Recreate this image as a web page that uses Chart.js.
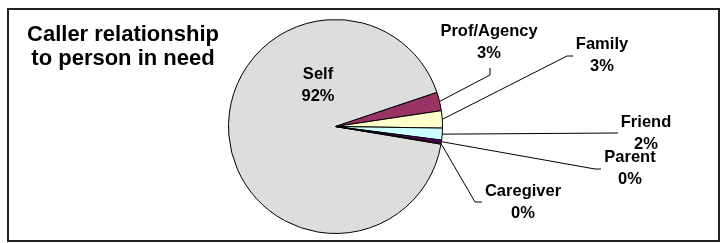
<!DOCTYPE html>
<html>
<head>
<meta charset="utf-8">
<script src="https://cdn.jsdelivr.net/npm/chart.js@4.4.0/dist/chart.umd.min.js"></script>
<style>
  html, body { margin: 0; padding: 0; background: #fff; }
  #wrap { width: 725px; height: 243px; }
</style>
</head>
<body>
<div id="wrap"><canvas id="pie" width="725" height="243"></canvas></div>
<script>
const categories = ["Self", "Prof/Agency", "Family", "Friend", "Parent", "Caregiver"];
const percents = [92.2, 2.8, 2.6, 1.8, 0.45, 0.15];
const titleLines = ["Caller relationship", "to person in need"];

const sliceColors = ["#DDDDDD", "#993366", "#FFFFCC", "#CCFFFF", "#660066", "#FF8080"];
const FONT = '"Liberation Sans", Arial, sans-serif';

// label text centres and leader elbows (null leader = label inside slice)
const labelLayout = [
    { x: 318, y: 74, leader: null },
    { x: 489, y: 31, leader: [[490, 75], [490, 68]] },
    { x: 602, y: 44, leader: [[567, 56], [573, 56]] },
    { x: 646, y: 122, leader: [[618, 133]] },
    { x: 630, y: 157, leader: [[595, 169], [601, 169]] },
    { x: 523, y: 191, leader: [[475, 202], [482, 202]] },
];

const total = percents.reduce((a, b) => a + b, 0);

const decorPlugin = {
    id: "decor",
    afterDraw(chart) {
        const ctx = chart.ctx;
        ctx.save();

        // outer frame
        ctx.strokeStyle = "#222";
        ctx.lineWidth = 2;
        ctx.strokeRect(8, 9, 711, 232);

        // title
        ctx.fillStyle = "#000";
        ctx.textAlign = "center";
        ctx.textBaseline = "middle";
        ctx.font = "bold 22px " + FONT;
        titleLines.forEach((t, i) => ctx.fillText(t, 123, 35 + i * 24));

        // labels + leaders
        const meta = chart.getDatasetMeta(0);
        ctx.font = "bold 16.5px " + FONT;
        meta.data.forEach((arc, i) => {
            const lay = labelLayout[i];
            const pct = Math.round(percents[i] / total * 100) + "%";
            if (lay.leader) {
                const mid = (arc.startAngle + arc.endAngle) / 2;
                ctx.beginPath();
                ctx.moveTo(arc.x + Math.cos(mid) * arc.outerRadius, arc.y + Math.sin(mid) * arc.outerRadius);
                lay.leader.forEach(p => ctx.lineTo(p[0], p[1]));
                ctx.strokeStyle = "#000";
                ctx.lineWidth = 1;
                ctx.stroke();
            }
            ctx.fillText(categories[i], lay.x, lay.y);
            ctx.fillText(pct, lay.x, lay.y + 22);
        });
        ctx.restore();
    }
};

new Chart(document.getElementById("pie"), {
    type: "pie",
    data: {
        labels: categories,
        datasets: [{
            data: percents,
            backgroundColor: sliceColors,
            borderColor: "#000",
            borderWidth: 1,
        }],
    },
    options: {
        responsive: false,
        animation: false,
        rotation: 99.5,
        radius: 107,
        layout: { padding: { left: 228, right: 282, top: 19, bottom: 9 } },
        plugins: {
            legend: { display: false },
            tooltip: { enabled: false },
        },
    },
    plugins: [decorPlugin],
});
</script>
</body>
</html>
